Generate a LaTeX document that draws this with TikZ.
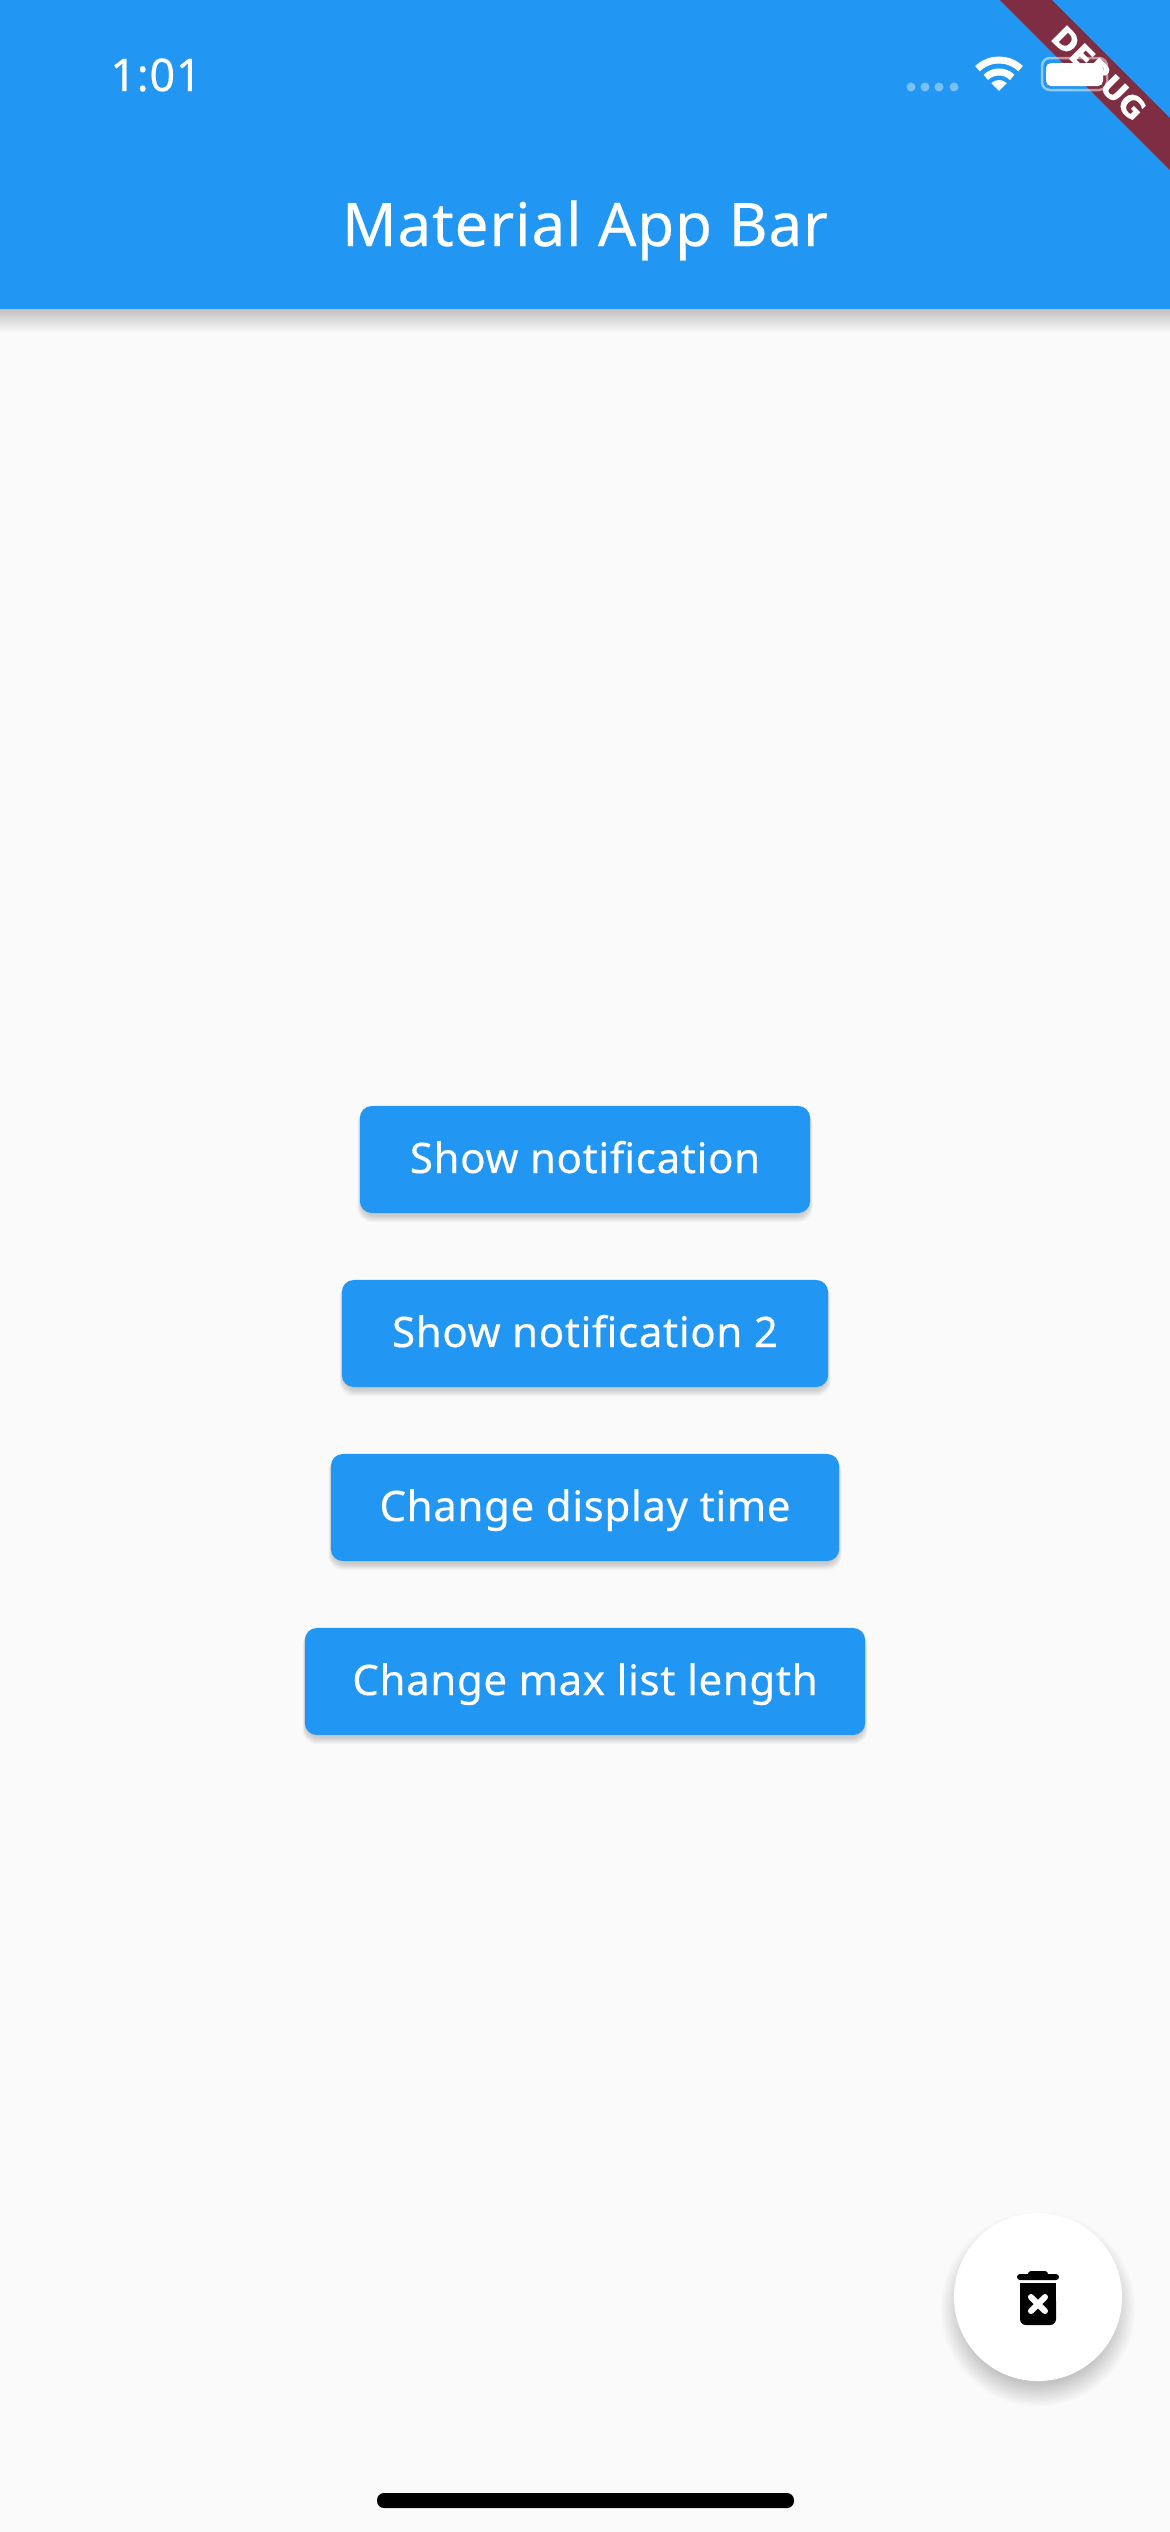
\documentclass[tikz,border=0pt]{standalone}
\usepackage{fontspec}
\setmainfont[FakeBold=0.35, LetterSpace=1.5]{Noto Sans}
\newfontfamily\debugfont[FakeBold=0.5]{DejaVu Sans}
\usepackage{tikz}
\usetikzlibrary{positioning}
\definecolor{appblue}{HTML}{2196F3}
\definecolor{pagegrey}{HTML}{FAFAFA}
\definecolor{bannerred}{HTML}{7F2D42}
\tikzset{btn/.style={fill=appblue, text=white, rounded corners=0.12cm, minimum height=1.07cm, inner sep=0pt, text height=0.37cm, text depth=0.1cm, font=\fontsize{11.95}{14}\selectfont}}
\tikzset{lbl/.style={text=white, inner sep=0pt, anchor=base}}

\begin{document}
\begin{tikzpicture}[x=0.01cm, y=-0.01cm]
\fill[pagegrey] (0, 0) rectangle (1170, 2532);
% app bar
\shade[top color=black!24, bottom color=pagegrey] (0, 309) rectangle (1170, 333);
\fill[appblue] (0, 0) rectangle (1170, 309);
\node[lbl, font=\fontsize{17.07}{20}\selectfont](title) at (585, 246){Material App Bar};
\node[lbl, font=\fontsize{12.8}{15}\selectfont](clock) at (156, 91){1:01};
% banner
\fill[bannerred] (1000, 0) -- (1052, 0) -- (1170, 118) -- (1170, 170) -- cycle;
\node[text=white, inner sep=0pt, rotate=-45, font=\debugfont\bfseries\fontsize{8.6}{11}\selectfont](debug) at (1099, 73){DEBUG};
% status icons
\foreach \x in {911, 925, 939, 954}
  \fill[white, opacity=0.4] (\x, 87) circle (0.045cm);
\coordinate (wifi) at (999, 91);
\draw[white, line width=0.07cm] (wifi) ++(46:0.31cm) arc[start angle=46, end angle=134, radius=0.31cm];
\draw[white, line width=0.07cm] (wifi) ++(46:0.19cm) arc[start angle=46, end angle=134, radius=0.19cm];
\fill[white] (wifi) -- ++(46:0.11cm) arc[start angle=46, end angle=134, radius=0.11cm] -- cycle;
\draw[white, opacity=0.5, line width=0.025cm, rounded corners=0.08cm] (1042, 58) rectangle (1107, 90);
\fill[white, rounded corners=0.05cm] (1046, 63) rectangle (1103, 86);
% buttons
\foreach \n/\y/\w/\t in {one/1159.5/4.50/Show notification, two/1333.5/4.86/Show notification 2, three/1507.5/5.08/Change display time, four/1681.5/5.60/Change max list length}{
  \foreach \d in {1,...,7}
    \fill[black, opacity=0.026, rounded corners=0.14cm] (585-\w*50-\d/2+1, \y-53.5+3) rectangle (585+\w*50+\d/2-1, \y+53.5+2+\d);
  \node[btn, minimum width=\w cm](btn\n) at (585, \y){\t};
}
% delete button
\foreach \d in {1,...,18}
  \fill[black, opacity=0.012] (1038, 2309) circle (0.74cm+0.013cm*\d);
\node[circle, fill=white, minimum size=1.68cm, inner sep=0pt](fab) at (1038, 2297){};
\fill[black, rounded corners=0.03cm] (1017, 2274) rectangle (1059, 2280);
\fill[black, rounded corners=0.03cm] (1028, 2271) rectangle (1048, 2278);
\fill[black, rounded corners=0.06cm] (1020, 2295) rectangle (1056, 2325);
\fill[black] (1020, 2283) rectangle (1056, 2305);
\draw[white, line width=0.06cm, line cap=round] (1031, 2297) -- (1045, 2311);
\draw[white, line width=0.06cm, line cap=round] (1045, 2297) -- (1031, 2311);
% home bar
\fill[black, rounded corners=0.07cm] (377, 2493) rectangle (794, 2508);
\end{tikzpicture}
\end{document}
